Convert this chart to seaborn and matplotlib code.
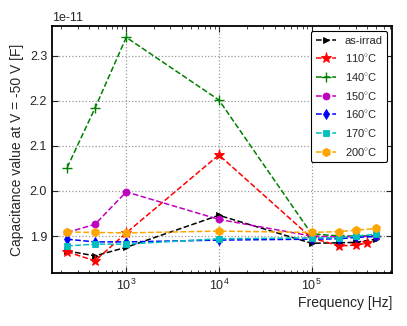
import matplotlib
matplotlib.use("Agg")
import matplotlib.pyplot as plt
import seaborn as sns
import numpy as np
import pandas as pd
from matplotlib.ticker import FuncFormatter, LogLocator, MultipleLocator

# ---- data (capacitance in units of 1e-11 F) ----
freq_std = [230, 460, 1e3, 1e4, 1e5, 2e5, 3e5, 5e5]
freq_110 = [230, 460, 1e3, 1e4, 1e5, 2e5, 3e5, 4e5]

labels = ["as-irrad", "110$^{\\circ}$C", "140$^{\\circ}$C", "150$^{\\circ}$C",
          "160$^{\\circ}$C", "170$^{\\circ}$C", "200$^{\\circ}$C"]
as_irrad = [1.867, 1.856, 1.875, 1.946, 1.884, 1.885, 1.886, 1.893]
c110 = [1.865, 1.845, 1.907, 2.080, 1.896, 1.878, 1.880, 1.884]
c140 = [2.052, 2.184, 2.341, 2.202, 1.905, 1.900, 1.900, 1.901]
c150 = [1.908, 1.926, 1.998, 1.937, 1.900, 1.898, 1.899, 1.900]
c160 = [1.893, 1.887, 1.887, 1.891, 1.893, 1.894, 1.897, 1.899]
c170 = [1.878, 1.882, 1.882, 1.894, 1.896, 1.896, 1.900, 1.904]
c200 = [1.909, 1.908, 1.907, 1.911, 1.908, 1.910, 1.913, 1.917]

series = [
    (labels[0], freq_std, as_irrad, "black", ">", 5),
    (labels[1], freq_110, c110, "red", "*", 8),
    (labels[2], freq_std, c140, "green", "+", 7),
    (labels[3], freq_std, c150, "m", "o", 5),
    (labels[4], freq_std, c160, "blue", "d", 5),
    (labels[5], freq_std, c170, "c", "s", 5),
    (labels[6], freq_std, c200, "orange", "h", 6),
]

sns.set_style("ticks")
plt.rcParams["font.family"] = ["Liberation Sans", "DejaVu Sans"]
plt.rcParams["mathtext.fontset"] = "custom"
plt.rcParams["mathtext.rm"] = "Liberation Sans"
plt.rcParams["mathtext.it"] = "Liberation Sans:italic"
plt.rcParams["axes.unicode_minus"] = False

fig = plt.figure(figsize=(4.07, 3.26), dpi=100)
ax = fig.add_axes([0.1278, 0.1626, 0.8354, 0.7574])

for lab, fx, vals, col, mk, ms in series:
    df = pd.DataFrame({"f": fx, "c": np.array(vals) * 1e-11})
    sns.lineplot(data=df, x="f", y="c", ax=ax, color=col, marker=mk,
                 markersize=ms, linestyle="--", linewidth=1.1, label=lab,
                 markeredgecolor=col, markeredgewidth=1.0 if mk == "+" else 0.6,
                 estimator=None, sort=False)

ax.set_xscale("log")
ax.set_xlim(158, 7.4e5)
ax.set_ylim(1.818e-11, 2.366e-11)
ax.yaxis.set_major_locator(MultipleLocator(0.1e-11))
ax.yaxis.set_major_formatter(FuncFormatter(lambda v, p: f"{v/1e-11:.1f}"))
ax.text(0.0, 1.01, "1e-11", transform=ax.transAxes, ha="left", va="bottom", fontsize=9)
ax.xaxis.set_major_locator(LogLocator(base=10))
ax.xaxis.set_minor_locator(LogLocator(base=10, subs=np.arange(2, 10)))

ax.grid(True, which="major", linestyle=":", color="#999999", linewidth=0.9)
ax.tick_params(axis="both", which="both", direction="in", top=True, right=True,
               labelsize=9)
ax.tick_params(which="major", length=4)
ax.tick_params(which="minor", length=2.5)
for sp in ax.spines.values():
    sp.set_linewidth(1.3)
    sp.set_color("black")

ax.set_xlabel("Frequency [Hz]", fontsize=10, loc="right", labelpad=2)
ax.set_ylabel("Capacitance value at V = -50 V [F]", fontsize=10, labelpad=4)

leg = ax.legend(loc="upper right", fontsize=8, frameon=True, fancybox=True,
                edgecolor="black", framealpha=1, labelspacing=0.6,
                handlelength=1.8, borderaxespad=0.45)
leg.get_frame().set_linewidth(0.8)

fig.savefig("out.png", dpi=100)
